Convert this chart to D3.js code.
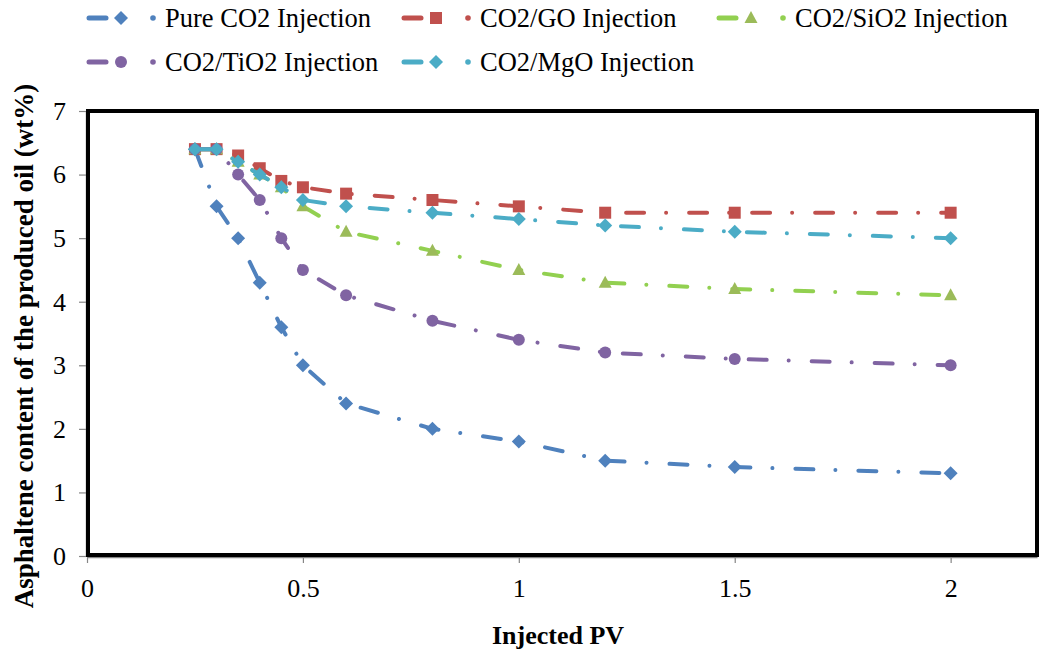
<!DOCTYPE html>
<html>
<head>
<meta charset="utf-8">
<script src="https://cdn.jsdelivr.net/npm/d3@7"></script>
<style>
body { margin: 0; background: #fff; }
svg text { font-family: "Liberation Serif", "Times New Roman", serif; fill: #000; }
</style>
</head>
<body>
<script>
// injected pore volumes (x) and asphaltene content (wt%) per case
var pv = [0.25, 0.3, 0.35, 0.4, 0.45, 0.5, 0.6, 0.8, 1, 1.2, 1.5, 2];
var pureCO2 = [6.4, 5.5, 5.0, 4.3, 3.6, 3.0, 2.4, 2.0, 1.8, 1.5, 1.4, 1.3];
var co2GO   = [6.4, 6.4, 6.3, 6.1, 5.9, 5.8, 5.7, 5.6, 5.5, 5.4, 5.4, 5.4];
var co2SiO2 = [6.4, 6.4, 6.2, 6.0, 5.8, 5.5, 5.1, 4.8, 4.5, 4.3, 4.2, 4.1];
var co2TiO2 = [6.4, 6.4, 6.0, 5.6, 5.0, 4.5, 4.1, 3.7, 3.4, 3.2, 3.1, 3.0];
var co2MgO  = [6.4, 6.4, 6.2, 6.0, 5.8, 5.6, 5.5, 5.4, 5.3, 5.2, 5.1, 5.0];

var seriesNames = ["Pure CO2 Injection", "CO2/GO Injection", "CO2/SiO2 Injection",
                   "CO2/TiO2 Injection", "CO2/MgO Injection"];
var xTicks = [0, 0.5, 1, 1.5, 2];
var yTicks = [0, 1, 2, 3, 4, 5, 6, 7];

var series = [
    {name: seriesNames[0], values: pureCO2, line: "#4F81BD", mark: "#4F81BD", shape: "diamond"},
    {name: seriesNames[1], values: co2GO,   line: "#C0504D", mark: "#C0504D", shape: "square"},
    {name: seriesNames[2], values: co2SiO2, line: "#92D050", mark: "#9BBB59", shape: "triangle"},
    {name: seriesNames[3], values: co2TiO2, line: "#8064A2", mark: "#8064A2", shape: "circle"},
    {name: seriesNames[4], values: co2MgO,  line: "#4BACC6", mark: "#4BACC6", shape: "diamond"}
];

var width = 1043, height = 660;
var plotLeft = 87, plotRight = 1037, plotTop = 111, plotBottom = 556;
var serif = "'Liberation Serif', 'Times New Roman', serif";

var svg = d3.select("body").append("svg")
    .attr("width", width)
    .attr("height", height);

var x = d3.scaleLinear().domain([0, 2.2]).range([plotLeft, plotRight]);
var y = d3.scaleLinear().domain([0, 7]).range([plotBottom, plotTop]);

function markerPath(shape) {
    if (shape == "diamond") return "M0,-7L7,0L0,7L-7,0Z";
    if (shape == "square") return "M-6,-6H6V6H-6Z";
    if (shape == "triangle") return "M0,-7L6.5,5H-6.5Z";
    return "M6,0A6,6 0 1,1 -6,0A6,6 0 1,1 6,0Z";
}

// axes
var yAxis = svg.append("g")
    .attr("transform", "translate(" + (plotLeft - 1) + ",0)")
    .call(d3.axisLeft(y).tickValues(yTicks).tickSize(7).tickPadding(13)
        .tickFormat(d3.format("d")).tickSizeOuter(0));
var xAxis = svg.append("g")
    .attr("transform", "translate(0," + (plotBottom + 1) + ")")
    .call(d3.axisBottom(x).tickValues(xTicks).tickSize(6).tickPadding(16)
        .tickFormat(function(d) { return String(d); }).tickSizeOuter(0));

[yAxis, xAxis].forEach(function(a) {
    a.select(".domain").attr("stroke", "#868686").attr("stroke-width", 1.5);
    a.selectAll(".tick line").attr("stroke", "#868686").attr("stroke-width", 1.2);
    a.selectAll(".tick text")
        .attr("fill", "#000")
        .style("font-size", "26px")
        .style("font-family", serif);
});

// plot frame
svg.append("rect")
    .attr("x", plotLeft + 1)
    .attr("y", plotTop)
    .attr("width", plotRight - plotLeft - 1)
    .attr("height", plotBottom - plotTop - 1)
    .attr("fill", "none")
    .attr("stroke", "#000")
    .attr("stroke-width", 4);

// series
var line = d3.line()
    .x(function(d) { return x(d.x); })
    .y(function(d) { return y(d.y); });

series.forEach(function(s) {
    var pts = s.values.map(function(v, i) { return {x: pv[i], y: v}; });
    var g = svg.append("g");
    g.append("path")
        .datum(pts)
        .attr("d", line)
        .attr("fill", "none")
        .attr("stroke", s.line)
        .attr("stroke-width", 4)
        .attr("stroke-linecap", "round")
        .attr("stroke-dasharray", "18 22 0.01 23");
    g.selectAll("path.mk")
        .data(pts)
        .enter().append("path")
        .attr("class", "mk")
        .attr("d", markerPath(s.shape))
        .attr("transform", function(d) { return "translate(" + x(d.x) + "," + y(d.y) + ")"; })
        .attr("fill", s.mark);
});

// legend
var legX = [87, 402, 717, 87, 402];
var legY = [18, 18, 18, 62, 62];

series.forEach(function(s, i) {
    var g = svg.append("g").attr("transform", "translate(" + legX[i] + "," + legY[i] + ")");
    g.append("line")
        .attr("x1", 2).attr("x2", 19).attr("y1", 0).attr("y2", 0)
        .attr("stroke", s.line)
        .attr("stroke-width", 5)
        .attr("stroke-linecap", "round");
    g.append("path")
        .attr("d", markerPath(s.shape))
        .attr("transform", "translate(34,0)")
        .attr("fill", s.mark);
    g.append("circle")
        .attr("cx", 66).attr("cy", 0).attr("r", 2.8)
        .attr("fill", s.line);
    g.append("text")
        .attr("x", 78)
        .attr("y", 0)
        .attr("dy", "0.33em")
        .style("font-size", "26.5px")
        .style("font-family", serif)
        .text(s.name);
});

// axis titles
svg.append("text")
    .attr("transform", "translate(33,346) rotate(-90)")
    .attr("text-anchor", "middle")
    .style("font-size", "27px")
    .style("font-weight", "bold")
    .style("font-family", serif)
    .text("Asphaltene content of the produced oil (wt%)");

svg.append("text")
    .attr("x", 558)
    .attr("y", 644)
    .attr("text-anchor", "middle")
    .style("font-size", "26px")
    .style("font-weight", "bold")
    .style("font-family", serif)
    .text("Injected PV");
</script>
</body>
</html>
